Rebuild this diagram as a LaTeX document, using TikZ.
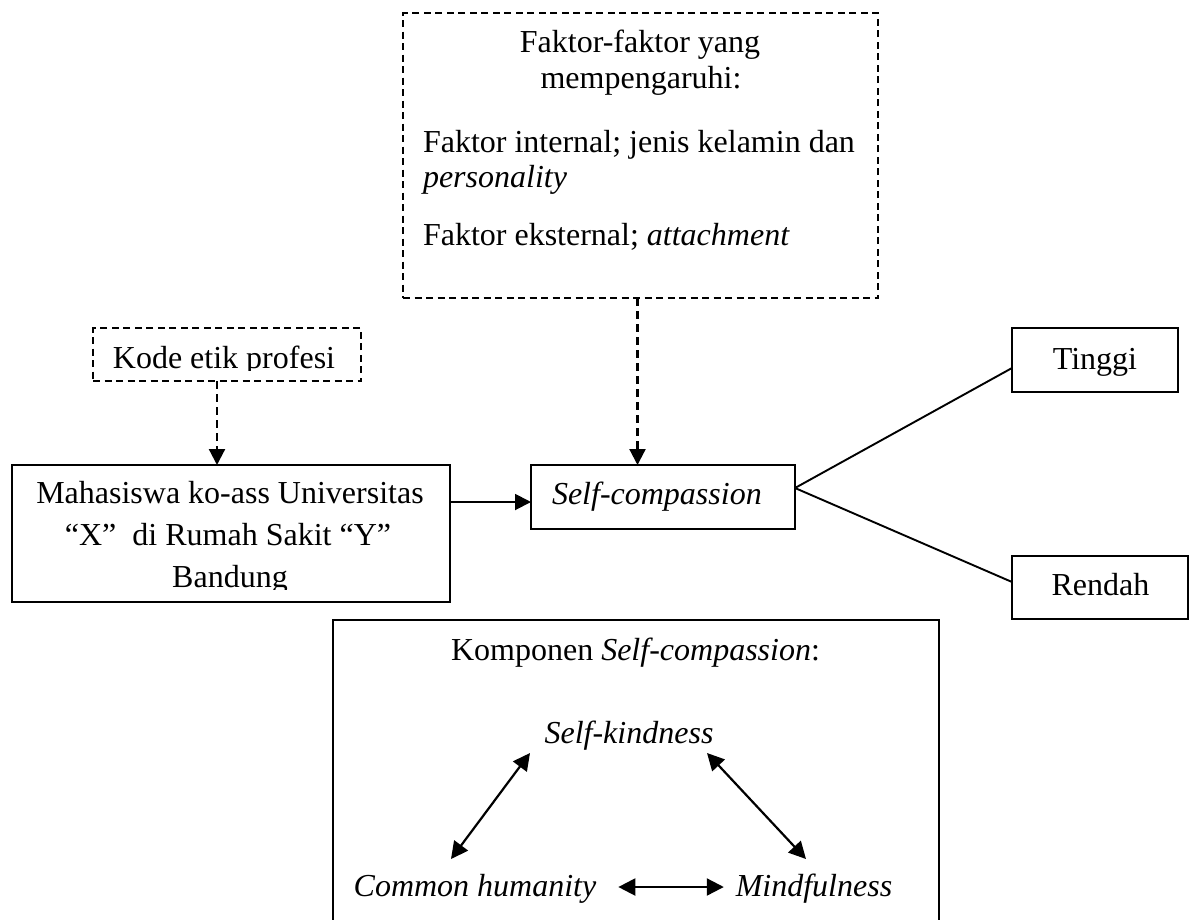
\documentclass[tikz,border=0pt]{standalone}
\usepackage{fontspec}
\setmainfont{Liberation Serif}
\usetikzlibrary{arrows.meta,calc}
\begin{document}
\begin{tikzpicture}[x=1pt,y=-1pt,
  box/.style={draw=black,line width=1.9pt,inner sep=0pt,outer sep=0pt},
  dbox/.style={box,dash pattern=on 7pt off 4.5pt},
  txt/.style={inner sep=0pt,outer sep=0pt,font=\fontsize{32}{42}\selectfont},
  conn/.style={draw=black,line width=1.9pt},
  arr/.style={conn,-{Triangle[width=16pt,length=16pt]}},
  darr/.style={arr,line width=2.2pt,dash pattern=on 8pt off 5pt},
  biarr/.style={draw=black,line width=2.2pt,{Triangle[width=17pt,length=17pt]}-{Triangle[width=17pt,length=17pt]}}]
\clip (0,0) rectangle (1190,919);
\fill[white] (0,0) rectangle (1190,919);

% boxes
\node[dbox,minimum width=475pt,minimum height=285pt] (faktor) at (640.5,155.5) {};
\node[dbox,minimum width=268pt,minimum height=53pt] (kode) at (227,354.5) {};
\node[box,minimum width=438pt,minimum height=137pt] (mhs) at (231,533.5) {};
\node[box,minimum width=264pt,minimum height=64pt] (self) at (663,497) {};
\node[box,minimum width=166pt,minimum height=64pt] (tinggi) at (1095,360) {};
\node[box,minimum width=176pt,minimum height=63pt] (rendah) at (1100,587.5) {};
\node[box,minimum width=606pt,minimum height=320pt] (komp) at (636,780) {};

% texts of the Faktor box
\node[txt,anchor=base] (f1) at (640,52) {Faktor-faktor yang};
\node[txt,anchor=base] (f2) at (641,88) {mempengaruhi:};
\node[txt,anchor=base west] (f3) at (423,152) {Faktor internal; jenis kelamin dan};
\node[txt,anchor=base west] (f4) at (423,187) {\textit{personality}};
\node[txt,anchor=base west] (f5) at (423,245) {Faktor eksternal; \textit{attachment}};

% clipped texts
\begin{scope}
\clip (kode.north west) rectangle ($(kode.south east)+(0,-11)$);
\node[txt,anchor=base] (k1) at (224,368) {Kode etik profesi};
\end{scope}
\begin{scope}
\clip (mhs.north west) rectangle ($(mhs.south east)+(0,-13)$);
\node[txt,anchor=base] (m1) at (230,503) {Mahasiswa ko-ass Universitas};
\node[txt,anchor=base] (m2) at (228,545) {“X”\ \ di Rumah Sakit “Y”};
\node[txt,anchor=base] (m3) at (230,587) {Bandung};
\end{scope}

\node[txt,anchor=base west] (s1) at (552,504) {\textit{Self-compassion}};
\node[txt,anchor=base] (t1) at (1095,369) {Tinggi};
\node[txt,anchor=base] (r1) at (1100.5,595) {Rendah};

\node[txt,anchor=base] (kp) at (635.5,660) {Komponen \textit{Self-compassion}:};
\node[txt,anchor=base] (sk) at (629,743) {\textit{Self-kindness}};
\node[txt,anchor=base] (ch) at (475,896) {\textit{Common humanity}};
\node[txt,anchor=base] (mf) at (814,896) {\textit{Mindfulness}};

% connectors
\draw[darr] ([xshift=-10pt]kode.south) -- ([xshift=-10pt]kode.south |- mhs.north);
\draw[darr] ([xshift=-3pt]faktor.south) -- ([xshift=-3pt]faktor.south |- self.north);
\coordinate (selfin) at ($(self.west)+(0,5)$);
\draw[arr] (mhs.east |- selfin) -- (selfin);
\draw[conn] ($(self.east)+(0,-9)$) -- ($(tinggi.west)+(0,8)$);
\draw[conn] ($(self.east)+(0,-9)$) -- ($(rendah.west)+(0,-5.5)$);
\draw[conn] ($(self.south)+(-26,0)$) -- ($(self.south)+(-26,0)$ |- komp.north);

\draw[biarr] ($(sk.base)+(-99,10)$) -- ($(ch.base)+(-24,-37)$);
\draw[biarr] ($(sk.base)+(78,10)$) -- ($(mf.base)+(-8,-37)$);
\draw[biarr] ($(ch.base east)+(22,-9)$) -- ($(mf.base west)+(-12,-9)$);
\end{tikzpicture}
\end{document}
